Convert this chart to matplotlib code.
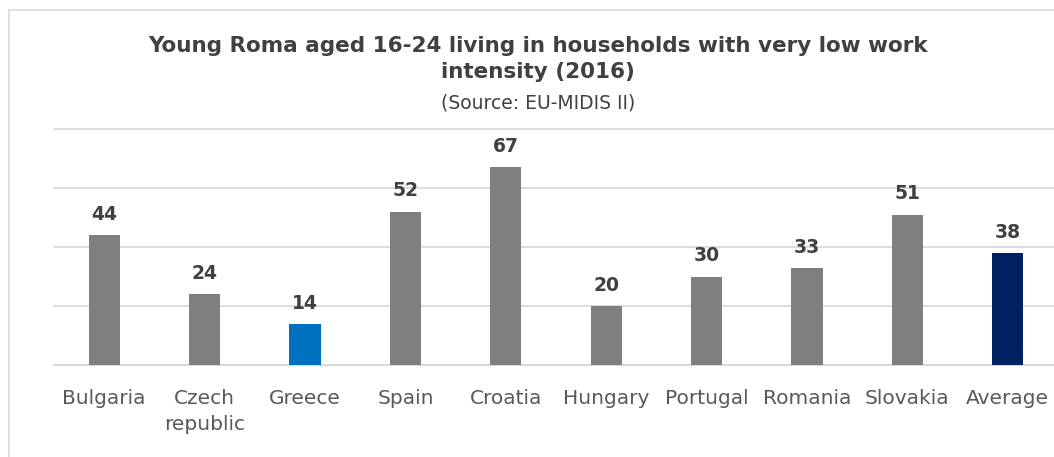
import matplotlib.pyplot as plt
from matplotlib.patches import Rectangle

countries = ["Bulgaria", "Czech\nrepublic", "Greece", "Spain", "Croatia",
             "Hungary", "Portugal", "Romania", "Slovakia", "Average"]
values = [44, 24, 14, 52, 67, 20, 30, 33, 51, 38]
colors = ["#7f7f7f", "#7f7f7f", "#0070c0", "#7f7f7f", "#7f7f7f",
          "#7f7f7f", "#7f7f7f", "#7f7f7f", "#7f7f7f", "#002060"]

fig = plt.figure(figsize=(10.54, 4.57), dpi=100)
# outer chart frame (cropped on the right and bottom)
fig.patches.append(Rectangle((9 / 1054, -0.1), 1.2, 1 - 10 / 457 + 0.1,
                             transform=fig.transFigure, fill=False,
                             edgecolor="#d9d9d9", linewidth=1.2))

ax = fig.add_axes([54 / 1054, 92 / 457, 1004 / 1054, 236 / 457])
x = range(len(countries))
bars = ax.bar(x, values, width=0.31, color=colors, zorder=3)
ax.set_xlim(-0.5, len(countries) - 0.5)
ax.set_ylim(0, 80)
ax.set_yticks([0, 20, 40, 60, 80])
ax.yaxis.grid(True, color="#d9d9d9", linewidth=1.3, zorder=0)
for gl in ax.get_ygridlines():
    gl.set_clip_on(False)
ax.tick_params(axis="y", left=False, labelleft=False)
ax.tick_params(axis="x", length=0, pad=17, labelsize=14.5, labelcolor="#595959")
ax.set_xticks(list(x))
ax.set_xticklabels(countries, linespacing=1.5)
for s in ["top", "right", "left"]:
    ax.spines[s].set_visible(False)
ax.spines["bottom"].set_color("#d9d9d9")
ax.spines["bottom"].set_linewidth(1.3)

for b, v in zip(bars, values):
    ax.annotate(str(v), (b.get_x() + b.get_width() / 2, v), xytext=(0, 8),
                textcoords="offset points", ha="center", va="bottom",
                fontsize=13.5, fontweight="bold", color="#404040")

fig.text(538 / 1054, 1 - 59 / 457,
         "Young Roma aged 16-24 living in households with very low work\nintensity (2016)",
         ha="center", va="center", fontsize=15.5, fontweight="bold",
         color="#404040", linespacing=1.4)
fig.text(538 / 1054, 1 - 103 / 457, "(Source: EU-MIDIS II)", ha="center",
         va="center", fontsize=13.5, color="#404040")

fig.savefig("out.png", dpi=100)
